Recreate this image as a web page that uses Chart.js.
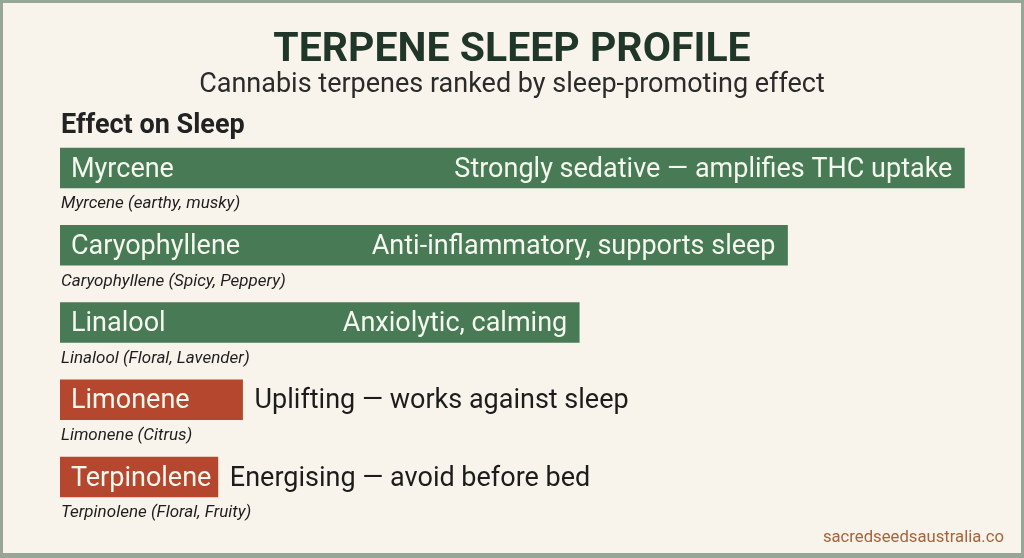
<!DOCTYPE html>
<html>
<head>
<meta charset="utf-8">
<script src="https://cdn.jsdelivr.net/npm/chart.js@4.4.1/dist/chart.umd.min.js"></script>
<style>
  html, body { margin: 0; padding: 0; background: #97a696; }
  #wrap { width: 1024px; height: 558px; position: relative; }
</style>
</head>
<body>
<div id="wrap"><canvas id="c"></canvas></div>
<script>
// ---- data ----
const terpenes = ["Myrcene", "Caryophyllene", "Linalool", "Limonene", "Terpinolene"];
const sleepScores = [9.51, 7.65, 5.46, 1.92, 1.66];
const effects = [
  "Strongly sedative \u2014 amplifies THC uptake",
  "Anti-inflammatory, supports sleep",
  "Anxiolytic, calming",
  "Uplifting \u2014 works against sleep",
  "Energising \u2014 avoid before bed"
];
const aromas = [
  "Myrcene (earthy, musky)",
  "Caryophyllene (Spicy, Peppery)",
  "Linalool (Floral, Lavender)",
  "Limonene (Citrus)",
  "Terpinolene (Floral, Fruity)"
];
const promotesSleep = [true, true, true, false, false];
const titleText = "TERPENE SLEEP PROFILE";
const subtitleText = "Cannabis terpenes ranked by sleep-promoting effect";
const sectionText = "Effect on Sleep";
const sourceText = "sacredseedsaustralia.co";

const GREEN = "#487a56";
const RED = "#b5472f";
const FONT = "Roboto, 'Noto Sans', sans-serif";

const framePlugin = {
  id: "frame",
  beforeDraw(chart) {
    const ctx = chart.ctx;
    const W = chart.width, H = chart.height;
    ctx.save();
    ctx.fillStyle = "#97a696";
    ctx.fillRect(0, 0, W, H);
    ctx.fillStyle = "#f8f4ec";
    ctx.fillRect(3, 3, W - 6, H - 8);
    // headings
    ctx.textAlign = "center";
    ctx.textBaseline = "alphabetic";
    ctx.fillStyle = "#1f3628";
    ctx.font = "bold 41px " + FONT;
    ctx.fillText(titleText, 512, 61);
    ctx.fillStyle = "#2b2b2b";
    ctx.font = "27px " + FONT;
    ctx.fillText(subtitleText, 512, 92);
    ctx.textAlign = "left";
    ctx.fillStyle = "#222222";
    ctx.font = "bold 27px " + FONT;
    ctx.fillText(sectionText, 61, 133);
    ctx.textAlign = "right";
    ctx.fillStyle = "#a5653d";
    ctx.font = "16.7px " + FONT;
    ctx.fillText(sourceText, 1004, 542);
    ctx.restore();
  }
};

const labelPlugin = {
  id: "barLabels",
  afterDatasetsDraw(chart) {
    const ctx = chart.ctx;
    const meta = chart.getDatasetMeta(0);
    ctx.save();
    meta.data.forEach((bar, i) => {
      const left = Math.min(bar.base, bar.x);
      const right = Math.max(bar.base, bar.x);
      const bottom = bar.y + bar.height / 2;
      ctx.textBaseline = "middle";
      ctx.font = "27px " + FONT;
      ctx.textAlign = "left";
      ctx.fillStyle = "#f4f8ee";
      ctx.fillText(terpenes[i], left + 11, bar.y + 2);
      const lw = ctx.measureText(terpenes[i]).width;
      const dw = ctx.measureText(effects[i]).width;
      if (left + 11 + lw + 30 + dw + 12 <= right) {
        ctx.textAlign = "right";
        ctx.fillStyle = "#f4f8ee";
        ctx.fillText(effects[i], right - 12, bar.y + 2);
      } else {
        ctx.textAlign = "left";
        ctx.fillStyle = "#1c1c1c";
        ctx.fillText(effects[i], right + 12, bar.y + 2);
      }
      ctx.textAlign = "left";
      ctx.fillStyle = "#1e1e1e";
      ctx.font = "italic 17px " + FONT;
      ctx.fillText(aromas[i], left + 1, bottom + 16);
    });
    ctx.restore();
  }
};

function build() {
  new Chart(document.getElementById("c"), {
    type: "bar",
    data: {
      labels: terpenes,
      datasets: [{
        label: "Effect on Sleep",
        data: sleepScores,
        backgroundColor: promotesSleep.map(p => p ? GREEN : RED),
        borderWidth: 0,
        barThickness: 40
      }]
    },
    options: {
      indexAxis: "y",
      responsive: true,
      maintainAspectRatio: false,
      animation: false,
      devicePixelRatio: 1,
      layout: { padding: { left: 60, right: 13, top: 129.4, bottom: 42.4 } },
      scales: {
        x: { display: false, min: 0, max: 10 },
        y: { display: false }
      },
      plugins: {
        legend: { display: false },
        tooltip: { enabled: false },
        title: { display: false }
      }
    },
    plugins: [framePlugin, labelPlugin]
  });
}
if (document.fonts && document.fonts.load) {
  Promise.all([
    document.fonts.load("bold 41px Roboto"),
    document.fonts.load("27px Roboto"),
    document.fonts.load("italic 17px Roboto")
  ]).then(build, build);
} else { build(); }
</script>
</body>
</html>
